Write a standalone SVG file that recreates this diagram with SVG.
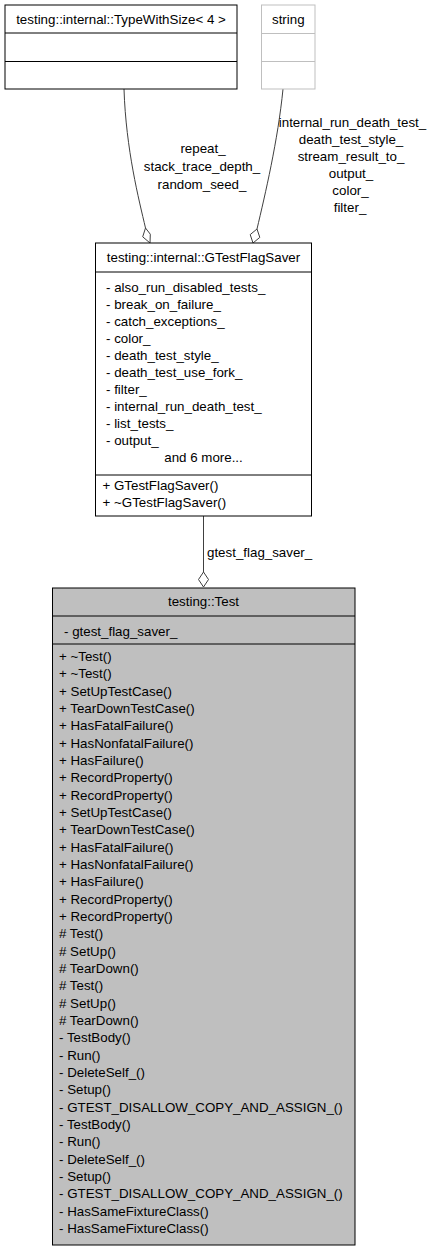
<svg xmlns="http://www.w3.org/2000/svg" width="429" height="1251" viewBox="0 0 429 1251">
<style>
text{font-family:"Liberation Sans",Arial,sans-serif;font-size:13.33px;fill:#000}
.c{text-anchor:middle}
.box{fill:#fff;stroke:#000;stroke-width:1}
.gbox{fill:#fff;stroke:#bfbfbf;stroke-width:1}
.hl{fill:#bfbfbf;stroke:#000;stroke-width:1}
.ln{stroke:#000;stroke-width:1}
.gln{stroke:#bfbfbf;stroke-width:1}
.edge{fill:none;stroke:#404040;stroke-width:1}
.dia{fill:#fff;stroke:#404040;stroke-width:1}
</style>
<rect width="429" height="1251" fill="#fff"/>
<g id="edges">
<path class="edge" d="M124,89 C126,150 139,200 145.5,228"/>
<polygon class="dia" points="145.5,228 150.3,234.2 150,243 142.7,236.8"/>
<text class="c" x="203" y="153">repeat_</text>
<text class="c" x="202" y="171">stack_trace_depth_</text>
<text class="c" x="202" y="188.5">random_seed_</text>
<path class="edge" d="M283,89 C278,140 265,195 257,229"/>
<polygon class="dia" points="257,229 259.8,237.4 253,243 250.2,234.6"/>
<text class="c" x="352.5" y="127">internal_run_death_test_</text>
<text class="c" x="351" y="144">death_test_style_</text>
<text class="c" x="351" y="161">stream_result_to_</text>
<text class="c" x="351" y="178">output_</text>
<text class="c" x="350.5" y="195">color_</text>
<text class="c" x="350" y="212">filter_</text>
<path class="edge" d="M203.5,516 L203.5,572"/>
<polygon class="dia" points="203.5,572 208.5,579.5 203.5,587 198.5,579.5"/>
<text x="207" y="557">gtest_flag_saver_</text>
</g>
<g id="node-typewithsize">
<rect class="box" x="5" y="5" width="232" height="84"/>
<line class="ln" x1="5" y1="33" x2="237" y2="33"/>
<line class="ln" x1="5" y1="61.5" x2="237" y2="61.5"/>
<text class="c" x="121" y="23.5">testing::internal::TypeWithSize&lt; 4 &gt;</text>
</g>
<g id="node-string">
<rect class="gbox" x="261.5" y="5" width="53.5" height="84"/>
<line class="gln" x1="261.5" y1="33.5" x2="315" y2="33.5"/>
<line class="gln" x1="261.5" y1="61.5" x2="315" y2="61.5"/>
<text class="c" x="288.3" y="23.5">string</text>
</g>
<g id="node-gtestflagsaver">
<rect class="box" x="95.5" y="243" width="216" height="273"/>
<line class="ln" x1="95.5" y1="272" x2="311.5" y2="272"/>
<line class="ln" x1="95.5" y1="475" x2="311.5" y2="475"/>
<text class="c" x="203.5" y="262">testing::internal::GTestFlagSaver</text>
<text x="106" y="292">- also_run_disabled_tests_<tspan x="106" dy="17">- break_on_failure_</tspan><tspan x="106" dy="17">- catch_exceptions_</tspan><tspan x="106" dy="17">- color_</tspan><tspan x="106" dy="17">- death_test_style_</tspan><tspan x="106" dy="17">- death_test_use_fork_</tspan><tspan x="106" dy="17">- filter_</tspan><tspan x="106" dy="17">- internal_run_death_test_</tspan><tspan x="106" dy="17">- list_tests_</tspan><tspan x="106" dy="17">- output_</tspan></text>
<text class="c" x="203.5" y="462">and 6 more...</text>
<text x="102.5" y="490">+ GTestFlagSaver()<tspan x="102.5" dy="16.5">+ ~GTestFlagSaver()</tspan></text>
</g>
<g id="node-test">
<rect class="hl" x="52.5" y="588" width="302.5" height="657"/>
<line class="ln" x1="52.5" y1="616" x2="355" y2="616"/>
<line class="ln" x1="52.5" y1="644" x2="355" y2="644"/>
<text class="c" x="203.5" y="606">testing::Test</text>
<text x="64" y="636">- gtest_flag_saver_</text>
<text x="59" y="661">+ ~Test()<tspan x="59" dy="17.33">+ ~Test()</tspan><tspan x="59" dy="17.33">+ SetUpTestCase()</tspan><tspan x="59" dy="17.33">+ TearDownTestCase()</tspan><tspan x="59" dy="17.33">+ HasFatalFailure()</tspan><tspan x="59" dy="17.33">+ HasNonfatalFailure()</tspan><tspan x="59" dy="17.33">+ HasFailure()</tspan><tspan x="59" dy="17.33">+ RecordProperty()</tspan><tspan x="59" dy="17.33">+ RecordProperty()</tspan><tspan x="59" dy="17.33">+ SetUpTestCase()</tspan><tspan x="59" dy="17.33">+ TearDownTestCase()</tspan><tspan x="59" dy="17.33">+ HasFatalFailure()</tspan><tspan x="59" dy="17.33">+ HasNonfatalFailure()</tspan><tspan x="59" dy="17.33">+ HasFailure()</tspan><tspan x="59" dy="17.33">+ RecordProperty()</tspan><tspan x="59" dy="17.33">+ RecordProperty()</tspan><tspan x="59" dy="17.33"># Test()</tspan><tspan x="59" dy="17.33"># SetUp()</tspan><tspan x="59" dy="17.33"># TearDown()</tspan><tspan x="59" dy="17.33"># Test()</tspan><tspan x="59" dy="17.33"># SetUp()</tspan><tspan x="59" dy="17.33"># TearDown()</tspan><tspan x="59" dy="17.33">- TestBody()</tspan><tspan x="59" dy="17.33">- Run()</tspan><tspan x="59" dy="17.33">- DeleteSelf_()</tspan><tspan x="59" dy="17.33">- Setup()</tspan><tspan x="59" dy="17.33">- GTEST_DISALLOW_COPY_AND_ASSIGN_()</tspan><tspan x="59" dy="17.33">- TestBody()</tspan><tspan x="59" dy="17.33">- Run()</tspan><tspan x="59" dy="17.33">- DeleteSelf_()</tspan><tspan x="59" dy="17.33">- Setup()</tspan><tspan x="59" dy="17.33">- GTEST_DISALLOW_COPY_AND_ASSIGN_()</tspan><tspan x="59" dy="17.33">- HasSameFixtureClass()</tspan><tspan x="59" dy="17.33">- HasSameFixtureClass()</tspan></text>
</g>
</svg>
